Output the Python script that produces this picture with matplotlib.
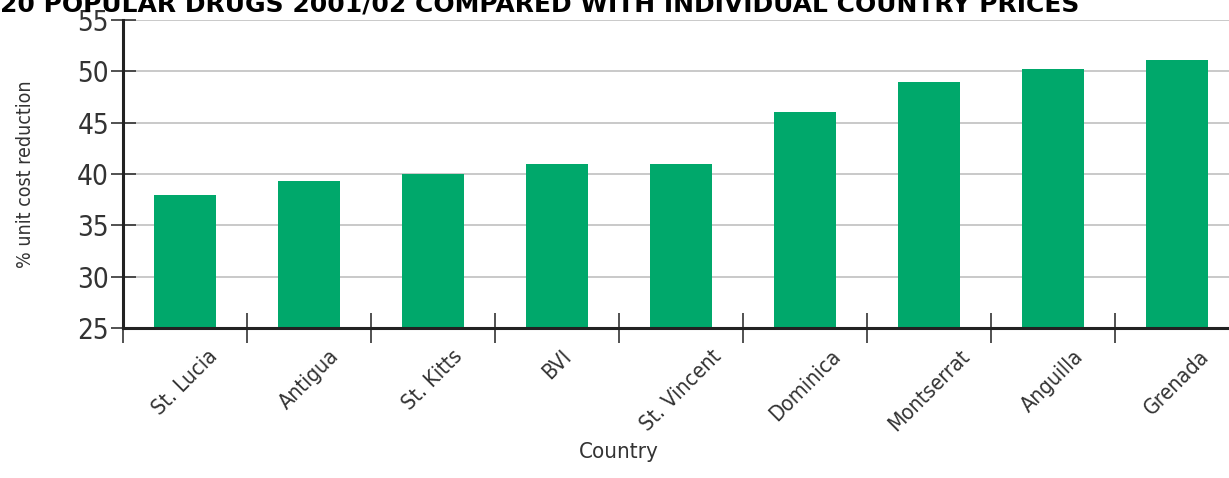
import matplotlib
matplotlib.use("Agg")
import matplotlib.pyplot as plt
import numpy as np

countries = ["St. Lucia", "Antigua", "St. Kitts", "BVI", "St. Vincent",
             "Dominica", "Montserrat", "Anguilla", "Grenada"]
reduction = [38.0, 39.3, 40.0, 41.0, 41.0, 46.0, 49.0, 50.2, 51.1]
y_ticks = [25, 30, 35, 40, 45, 50, 55]

title = "20 POPULAR DRUGS 2001/02 COMPARED WITH INDIVIDUAL COUNTRY PRICES"

plt.rcParams["font.family"] = ["DejaVu Sans"]
plt.rcParams["font.stretch"] = "condensed"

fig = plt.figure(figsize=(12.29, 4.78), dpi=100)
ax = fig.add_axes([0.1, 0.314, 0.9, 0.644])

x = np.arange(len(countries))
ax.bar(x, [v - 25 for v in reduction], bottom=25, width=0.5,
       color="#00a86b", zorder=3)

ax.set_xlim(-0.5, 8.42)
ax.set_ylim(25, 55)
ax.set_yticks(y_ticks)
ax.yaxis.grid(True, color="#c0c0c0", linewidth=1.2, zorder=0)

ax.set_xticks(x)
ax.set_xticklabels(countries, rotation=45, ha="center", va="top",
                   fontsize=15.5, color="#333333")
ax.set_xticks(np.arange(-0.5, 8.0, 1.0), minor=True)
ax.tick_params(axis="x", which="major", length=0, pad=13)
ax.tick_params(axis="x", which="minor", direction="inout", length=22,
               width=1.2, color="#333333")
ax.tick_params(axis="y", direction="inout", length=18, width=1.2,
               labelsize=20, colors="#333333", pad=1)

for side in ("top", "right"):
    ax.spines[side].set_visible(False)
for side in ("left", "bottom"):
    ax.spines[side].set_linewidth(2.2)
    ax.spines[side].set_color("#222222")
    ax.spines[side].set_zorder(4)

ax.set_ylabel("% unit cost reduction", fontsize=14, color="#333333",
              labelpad=30)
ax.set_xlabel("Country", fontsize=16, color="#333333")
# label sits centred under the ticked part of the axis
ax.xaxis.set_label_coords(0.448, -0.37)

fig.text(0.0, 1 - 12 / 478, title, fontsize=18, fontweight="bold",
         family=["DejaVu Sans"], stretch="normal", va="baseline",
         ha="left", color="black")

fig.savefig("out.png", dpi=100)
